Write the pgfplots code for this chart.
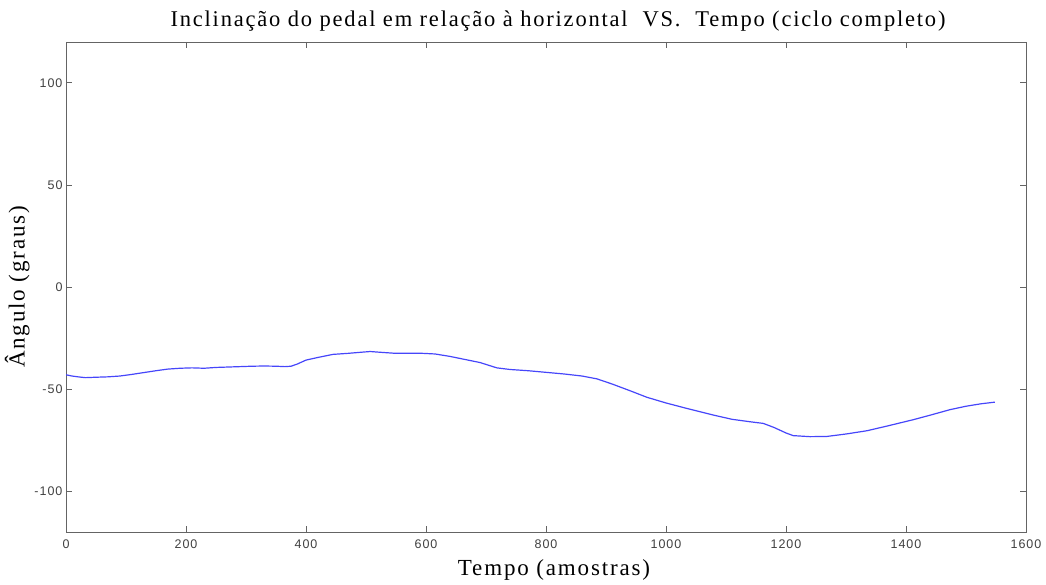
\documentclass[border=0pt]{standalone}
\usepackage{fontspec}
\setmainfont{Liberation Serif}
\newfontfamily\reffont[LetterSpace=8]{Liberation Serif}
\newfontfamily\ticksans[LetterSpace=8]{Liberation Sans}
\usepackage{pgfplots}
\pgfplotsset{compat=1.18}
\definecolor{traceblue}{RGB}{70,70,250}
\definecolor{axisgray}{RGB}{100,100,100}

\pgfplotstableread{
x y
0 -43.0
10 -43.6
20 -44.0
32 -44.4
50 -44.2
70 -44.0
90 -43.6
110 -42.8
130 -41.9
150 -41.0
170 -40.2
190 -39.8
210 -39.6
230 -39.8
250 -39.4
270 -39.2
290 -39.0
310 -38.8
330 -38.7
350 -38.8
365 -39.0
375 -38.8
385 -37.8
400 -35.8
420 -34.5
445 -33.0
470 -32.5
490 -32.0
507 -31.6
525 -32.0
545 -32.4
570 -32.4
595 -32.5
615 -32.8
640 -34.0
660 -35.2
690 -37.0
718 -39.6
740 -40.4
770 -41.0
800 -41.8
830 -42.6
860 -43.6
885 -45.0
910 -47.5
940 -50.8
968 -54.0
1000 -56.8
1035 -59.5
1057 -61.1
1080 -62.8
1110 -64.8
1140 -66.0
1162 -66.8
1180 -68.8
1200 -71.5
1212 -72.8
1240 -73.3
1268 -73.2
1300 -72.0
1335 -70.4
1370 -68.0
1412 -65.0
1440 -62.8
1473 -60.1
1500 -58.4
1525 -57.2
1548 -56.4
}\pedal

\begin{document}
\begin{tikzpicture}
\useasboundingbox (0pt,0pt) rectangle (1046pt,584pt);
\begin{axis}[
  at={(66pt,52pt)}, anchor=south west,
  scale only axis,
  width=960pt, height=490pt,
  xmin=0, xmax=1600, ymin=-120, ymax=120,
  xtick={0,200,...,1600},
  ytick={-100,-50,0,50,100},
  tick align=inside,
  major tick length=6pt,
  axis line style={axisgray, line width=0.8pt},
  tick style={axisgray, line width=0.8pt},
  ticklabel style={font=\ticksans\fontsize{12.5}{14}\selectfont, color=black!75},
  xticklabel style={yshift=-4pt},
  /pgf/number format/assume math mode=true,
  /pgf/number format/1000 sep={},
  title={Inclinação do pedal em relação à horizontal\ \ VS.\ \ Tempo (ciclo completo)},
  title style={font=\reffont\fontsize{22.5}{26}\selectfont, yshift=1pt, xshift=12pt},
  xlabel={Tempo (amostras)},
  ylabel={Ângulo (graus)},
  label style={font=\reffont\fontsize{23}{27}\selectfont},
  xlabel style={yshift=-4pt, xshift=8pt},
  ylabel style={yshift=-2pt},
]
\addplot[traceblue, line width=1.2pt] table[x=x,y=y] {\pedal};
\end{axis}
\end{tikzpicture}
\end{document}
